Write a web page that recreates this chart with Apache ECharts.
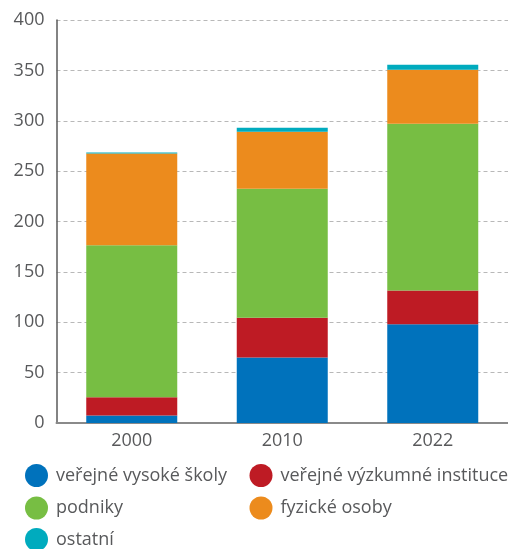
<!DOCTYPE html>
<html>
<head>
<meta charset="utf-8">
<script src="https://cdn.jsdelivr.net/npm/echarts@6/dist/echarts.min.js"></script>
<style>
  html, body { margin: 0; padding: 0; background: #fff; }
  #chart { width: 508px; height: 549px; }
</style>
</head>
<body>
<div id="chart"></div>
<script>
// Years on the category axis
const years = ['2000', '2010', '2022'];

// Stacked components per year
const verejneVysokeSkoly = [7.5, 65, 98];
const verejneVyzkumneInstituce = [18, 39.5, 33.5];
const podniky = [151, 128, 165.5];
const fyzickeOsoby = [91, 56.5, 53.5];
const ostatni = [1, 4, 5];

// Y axis ticks
const yMin = 0, yMax = 400, yStep = 50;

const seriesNames = ['veřejné vysoké školy', 'veřejné výzkumné instituce', 'podniky', 'fyzické osoby', 'ostatní'];
const seriesData = [verejneVysokeSkoly, verejneVyzkumneInstituce, podniky, fyzickeOsoby, ostatni];
const seriesColors = ['#0072bc', '#be1b24', '#77be43', '#ec8b1d', '#00abbe'];

const textColor = '#58595b';
const fontFamily = '"Open Sans", "Noto Sans", sans-serif';

const chart = echarts.init(document.getElementById('chart'), null, { renderer: 'canvas' });

// Legend laid out as two columns: one legend block per entry
const legendSlots = [
  { left: 25, top: 464 },
  { left: 249.5, top: 464 },
  { left: 25, top: 496.5 },
  { left: 249.5, top: 496.5 },
  { left: 25, top: 528 }
];

const legends = seriesNames.map((name, i) => ({
  left: legendSlots[i].left,
  top: legendSlots[i].top,
  padding: 0,
  data: [name],
  icon: 'circle',
  itemWidth: 29,
  itemHeight: 23,
  selectedMode: false,
  textStyle: { color: textColor, fontSize: 18, fontFamily: fontFamily }
}));

chart.setOption({
  animation: false,
  color: seriesColors,
  grid: { left: 56.5, right: -5.5, top: 20, bottom: 126 },
  legend: legends,
  xAxis: {
    type: 'category',
    data: years,
    axisLine: { lineStyle: { color: '#8a8a8a', width: 2 } },
    axisTick: { show: false },
    axisLabel: { color: textColor, fontSize: 18, fontFamily: fontFamily, margin: 9 }
  },
  yAxis: {
    type: 'value',
    min: yMin,
    max: yMax,
    interval: yStep,
    axisLine: { show: true, lineStyle: { color: '#5a5a5a', width: 1.5 } },
    axisTick: { show: false },
    axisLabel: { color: textColor, fontSize: 18, fontFamily: fontFamily, margin: 12 },
    splitLine: { lineStyle: { color: '#b8b8b8', type: [4, 3], width: 1 } }
  },
  series: seriesNames.map((name, i) => ({
    name: name,
    type: 'bar',
    stack: 'total',
    barWidth: 91,
    data: seriesData[i],
    itemStyle: { color: seriesColors[i] }
  }))
});
</script>
</body>
</html>
